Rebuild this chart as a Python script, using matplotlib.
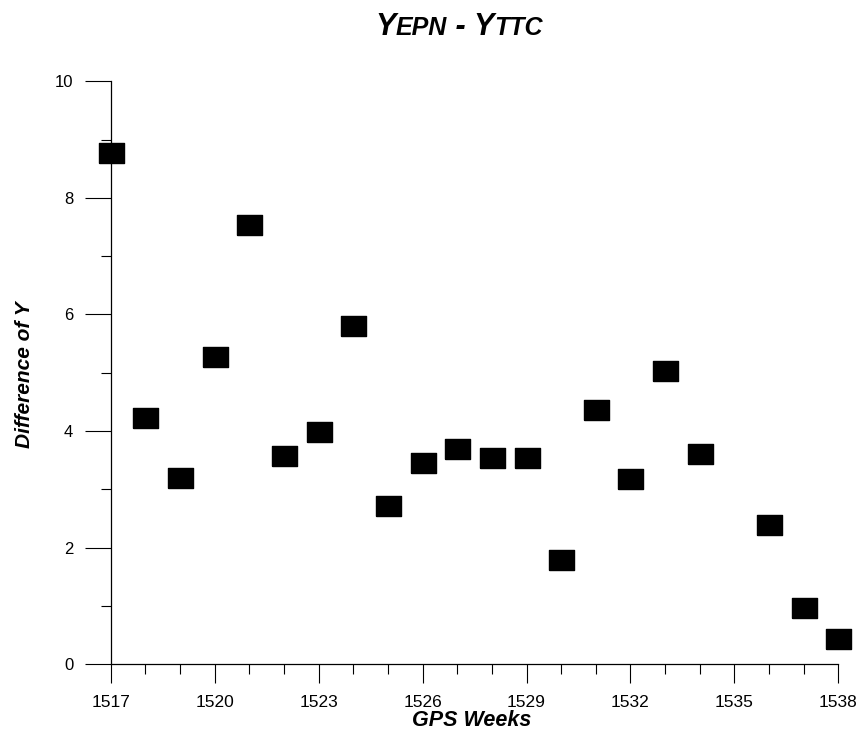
import matplotlib
matplotlib.use("Agg")
import matplotlib.pyplot as plt
from matplotlib.ticker import MultipleLocator
from matplotlib.offsetbox import TextArea, HPacker, AnnotationBbox

plt.rcParams["font.family"] = ["Liberation Sans", "DejaVu Sans"]

# GPS weeks and difference of Y
weeks = [1517, 1518, 1519, 1520, 1521, 1522, 1523, 1524, 1525, 1526, 1527,
         1528, 1529, 1530, 1531, 1532, 1533, 1534, 1536, 1537, 1538]
diff_y = [8.77, 4.22, 3.19, 5.27, 7.53, 3.57, 3.98, 5.80, 2.71, 3.45, 3.69,
          3.53, 3.53, 1.78, 4.36, 3.17, 5.03, 3.60, 2.38, 0.96, 0.43]

x_ticks = [1517, 1520, 1523, 1526, 1529, 1532, 1535, 1538]
y_ticks = [0, 2, 4, 6, 8, 10]

fig = plt.figure(figsize=(8.66, 7.33), dpi=100)
ax = fig.add_axes([0.128, 0.094, 0.84, 0.795])

rect = [(-1.25, -1), (1.25, -1), (1.25, 1), (-1.25, 1), (-1.25, -1)]
ax.plot(weeks, diff_y, linestyle="none", marker=rect, markersize=18,
        color="black", clip_on=False, zorder=3)

ax.set_xlim(1517, 1538)
ax.set_ylim(0, 10)
ax.set_xticks(x_ticks)
ax.set_yticks(y_ticks)
ax.xaxis.set_minor_locator(MultipleLocator(1))
ax.yaxis.set_minor_locator(MultipleLocator(1))

for s in ["top", "right"]:
    ax.spines[s].set_visible(False)
for s in ["left", "bottom"]:
    ax.spines[s].set_linewidth(0.9)

ax.tick_params(axis="x", which="major", length=14, width=0.8, pad=8, labelsize=12.5)
ax.tick_params(axis="x", which="minor", length=7, width=0.8)
ax.tick_params(axis="y", which="major", length=19, width=0.8, pad=8, labelsize=12)
ax.tick_params(axis="y", which="minor", length=7, width=0.8)

# axis labels
lab = dict(fontweight="bold", fontstyle="italic", ha="center", va="center")
fig.text(472 / 866, 1 - 721 / 733, "GPS Weeks", fontsize=15.5, **lab)
fig.text(25 / 866, 1 - 375 / 733, "Difference of Y", rotation=90, fontsize=15, **lab)

# title with subscripts nearly on the baseline
big = dict(fontsize=22, fontweight="bold", fontstyle="italic")
small = dict(fontsize=18, fontweight="bold", fontstyle="italic")
parts = [TextArea("Y", textprops=big), TextArea("EPN", textprops=small),
         TextArea(" - ", textprops=big), TextArea("Y", textprops=big),
         TextArea("TTC", textprops=small)]
title = HPacker(children=parts, align="baseline", pad=0, sep=0)
ab = AnnotationBbox(title, (0.53, 0.963), xycoords="figure fraction",
                    frameon=False, box_alignment=(0.5, 0.5), annotation_clip=False)
ax.add_artist(ab)

fig.savefig("out.png", dpi=100)
